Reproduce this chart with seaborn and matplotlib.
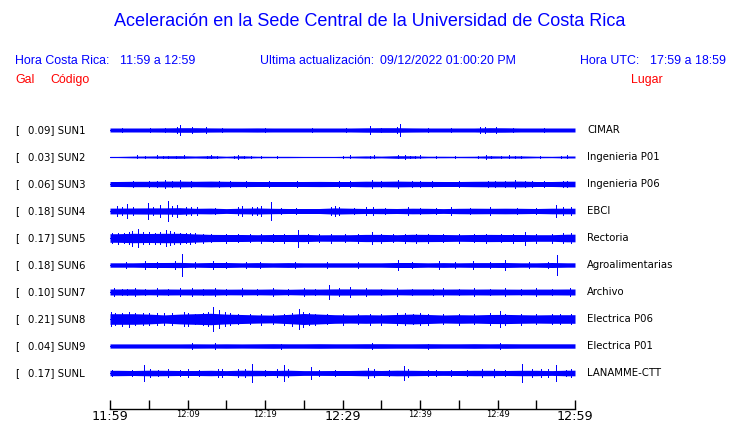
import numpy as np
import pandas as pd
import matplotlib
matplotlib.use("Agg")
import matplotlib.pyplot as plt
import seaborn as sns

# ---------------- data ----------------
codes = ["SUN1", "SUN2", "SUN3", "SUN4", "SUN5", "SUN6", "SUN7", "SUN8", "SUN9", "SUNL"]
peak_gal = ["0.09", "0.03", "0.06", "0.18", "0.17", "0.18", "0.10", "0.21", "0.04", "0.17"]
places = ["CIMAR", "Ingenieria P01", "Ingenieria P06", "EBCI", "Rectoria",
          "Agroalimentarias", "Archivo", "Electrica P06", "Electrica P01", "LANAMME-CTT"]

# time axis (minutes after 11:59)
block_centers = [1, 3, 5, 7, 9, 11, 13, 15, 17, 19, 21, 23, 25, 27, 29,
                 31, 33, 35, 37, 39, 41, 43, 45, 47, 49, 51, 53, 55, 57, 59]
tick_minutes = [0, 5, 10, 15, 20, 25, 30, 35, 40, 45, 50, 55, 60]
tick_labels = ["11:59", "", "12:09", "", "12:19", "", "12:29", "", "12:39", "", "12:49", "", "12:59"]
big_ticks = ["11:59", "12:29", "12:59"]

# half-amplitude of each trace per 2-minute block (pixel units of the plot)
env_sun1 = [2.0, 2.0, 2.0, 2.1, 2.3, 2.3, 2.1, 2.0, 2.0, 2.1, 2.0, 2.0, 2.0, 2.0, 2.0,
            2.0, 2.2, 2.3, 2.3, 2.1, 2.0, 2.0, 2.0, 2.0, 2.3, 2.2, 2.0, 2.0, 2.0, 2.0]
env_sun2 = [0.6, 0.9, 1.0, 1.2, 1.3, 1.0, 1.3, 0.8, 1.2, 0.8, 0.7, 0.7, 0.6, 0.6, 0.6,
            0.8, 1.1, 0.9, 1.3, 1.2, 0.8, 0.8, 0.7, 0.8, 1.2, 1.0, 1.1, 0.8, 0.7, 1.0]
env_sun3 = [2.5, 2.7, 2.7, 2.9, 2.9, 2.7, 2.9, 2.7, 2.6, 2.5, 2.5, 2.5, 2.5, 2.6, 2.5,
            2.5, 2.8, 2.7, 2.9, 2.7, 2.6, 2.5, 2.5, 2.7, 2.8, 2.8, 2.9, 2.5, 2.5, 2.8]
env_sun4 = [2.9, 3.0, 3.1, 3.1, 3.3, 2.7, 2.9, 2.4, 2.8, 3.0, 2.7, 2.5, 2.5, 2.5, 3.1,
            2.8, 2.5, 2.7, 2.5, 2.8, 2.7, 2.4, 2.7, 2.8, 2.7, 2.8, 2.7, 2.5, 2.8, 2.8]
env_sun5 = [4.3, 4.7, 4.5, 4.7, 4.7, 4.1, 3.6, 3.5, 3.5, 3.3, 3.5, 3.5, 3.6, 3.2, 3.3,
            3.3, 3.6, 3.6, 3.3, 3.7, 3.6, 3.5, 3.3, 3.5, 3.6, 3.5, 3.5, 3.3, 3.3, 3.8]
env_sun6 = [2.2, 2.2, 2.5, 2.5, 2.6, 2.2, 2.5, 2.5, 2.2, 2.4, 2.2, 2.4, 2.2, 2.2, 2.2,
            2.2, 2.2, 2.2, 2.5, 2.5, 2.2, 2.4, 2.2, 2.4, 2.4, 2.5, 2.2, 2.2, 2.5, 2.2]
env_sun7 = [3.0, 3.1, 2.8, 3.0, 2.9, 3.0, 3.1, 2.8, 2.9, 2.8, 3.0, 2.7, 3.0, 2.9, 3.1,
            3.1, 3.0, 3.0, 2.8, 3.0, 3.0, 2.9, 3.0, 2.9, 3.0, 2.9, 2.8, 2.9, 2.9, 3.0]
env_sun8 = [5.3, 5.3, 4.9, 4.1, 4.9, 5.3, 5.7, 4.9, 4.5, 4.1, 3.9, 4.6, 5.5, 4.9, 4.3,
            4.1, 4.3, 4.1, 4.5, 4.9, 4.5, 4.0, 4.3, 4.1, 4.5, 4.6, 4.3, 4.1, 4.3, 4.3]
env_sun9 = [2.1, 2.1, 2.1, 2.1, 2.1, 2.2, 2.1, 2.2, 2.1, 2.2, 2.3, 2.2, 2.2, 2.3, 2.2,
            2.2, 2.3, 2.3, 2.2, 2.2, 2.3, 2.2, 2.2, 2.3, 2.2, 2.3, 2.2, 2.2, 2.2, 2.2]
env_sunl = [2.7, 2.5, 2.8, 2.7, 2.5, 2.5, 2.7, 2.4, 2.8, 2.7, 2.5, 2.8, 2.4, 2.4, 2.5,
            2.5, 2.8, 2.5, 2.8, 2.7, 2.5, 2.4, 2.5, 2.7, 2.7, 2.5, 2.7, 2.7, 2.4, 2.8]

# isolated peaks: minute and half-amplitude (pixel units)
spk_t_sun1 = [1.5, 5.2, 7.1, 8.6, 9.0, 10.6, 12.4, 14.5, 20.0, 26.0, 30.5, 33.5, 35.0,
              37.0, 37.4, 41.0, 44.0, 47.8, 48.4, 49.8, 52.0, 56.0]
spk_a_sun1 = [2.2, 2.4, 2.4, 2.9, 4.9, 2.9, 3.4, 2.2, 2.2, 2.2, 2.4, 3.9, 2.4,
              3.4, 5.9, 2.2, 2.2, 3.4, 2.9, 2.6, 2.2, 2.2]
spk_t_sun2 = [3.5, 4.5, 6.0, 6.8, 7.5, 8.5, 9.5, 12.5, 13.0, 13.8, 16.0, 16.5, 17.3, 18.2,
              19.5, 21.5, 30.0, 31.0, 33.5, 34.0, 37.2, 38.0, 38.7, 39.4, 40.0, 42.0,
              44.5, 47.5, 48.5, 49.2, 50.5, 51.5, 52.2, 53.0, 55.5, 58.2, 59.0]
spk_a_sun2 = [1.5, 1.3, 1.5, 1.3, 1.4, 1.3, 1.5, 1.3, 1.5, 1.3, 1.4, 1.6, 1.3, 1.2,
              1.2, 1.2, 1.2, 1.5, 1.3, 1.5, 1.5, 1.6, 1.4, 1.3, 1.5, 1.2,
              1.2, 1.2, 1.6, 1.4, 1.3, 1.5, 1.3, 1.2, 1.2, 1.2, 1.5]
spk_t_sun3 = [3.0, 5.0, 6.0, 7.1, 8.0, 9.0, 10.5, 14.0, 15.5, 17.5, 20.5, 24.1, 29.5, 31.0,
              33.8, 35.0, 37.2, 39.0, 40.0, 41.5, 45.0, 48.8, 49.7, 51.0, 52.3, 53.5,
              54.5, 56.0, 58.5, 59.0]
spk_a_sun3 = [3.2, 3.2, 3.2, 3.9, 3.4, 3.6, 3.2, 3.4, 3.2, 3.4, 3.0, 3.4, 3.0, 3.0,
              3.6, 3.4, 3.9, 3.2, 3.4, 3.0, 3.0, 3.4, 3.4, 3.2, 3.9, 3.4,
              3.2, 3.0, 3.4, 3.4]
spk_t_sun4 = [0.9, 1.5, 2.15, 3.0, 4.9, 5.5, 6.4, 7.5, 8.0, 8.6, 9.8, 10.5, 11.2, 13.5,
              16.5, 17.0, 18.3, 19.0, 19.5, 20.8, 22.0, 24.0, 28.5, 29.0, 29.6, 31.5,
              33.0, 33.9, 35.5, 38.5, 40.0, 42.0, 44.0, 46.5, 49.0, 52.5, 55.0, 57.6,
              58.5, 59.5]
spk_a_sun4 = [4.9, 3.9, 7.4, 4.4, 8.4, 4.4, 6.4, 10.4, 4.9, 5.9, 4.4, 3.9, 3.9, 3.4,
              3.9, 4.9, 4.4, 3.9, 5.4, 8.9, 3.4, 3.4, 4.4, 4.9, 3.9, 3.4,
              3.9, 3.9, 3.4, 3.9, 3.4, 3.4, 3.9, 3.4, 3.9, 3.4, 3.4, 5.9,
              3.9, 3.9]
spk_t_sun5 = [0.3, 1.0, 1.8, 2.4, 2.9, 3.6, 4.3, 5.0, 5.8, 6.5, 7.2, 7.7, 8.3, 9.0, 9.8,
              10.3, 11.0, 12.0, 13.0, 15.0, 16.5, 18.0, 19.5, 21.0, 22.5, 24.3, 25.5,
              27.0, 28.5, 30.3, 32.0, 33.8, 35.0, 36.5, 38.0, 39.5, 41.0, 43.0, 45.0,
              47.0, 48.5, 50.5, 52.0, 53.6, 55.0, 57.0, 58.5, 59.5]
spk_a_sun5 = [5.0, 5.5, 5.0, 6.0, 7.5, 9.0, 6.0, 6.0, 5.5, 6.0, 8.0, 7.0, 6.0, 5.5, 5.0,
              5.5, 5.0, 4.5, 4.2, 4.5, 4.2, 4.2, 4.5, 4.2, 4.5, 8.5, 4.5,
              4.2, 4.5, 4.2, 4.5, 6.0, 4.5, 4.2, 4.5, 4.5, 4.5, 4.2, 4.5,
              4.2, 4.5, 4.2, 4.5, 6.5, 4.5, 4.5, 5.0, 5.0]
spk_t_sun6 = [2.0, 4.5, 6.0, 8.4, 9.3, 11.0, 13.3, 15.0, 17.5, 19.4, 23.9, 28.0, 32.0,
              37.2, 39.0, 42.5, 44.5, 46.8, 49.0, 51.0, 54.0, 56.5, 57.7]
spk_a_sun6 = [2.8, 3.8, 3.1, 3.8, 10.8, 3.1, 4.3, 3.3, 2.8, 3.3, 3.3, 2.8, 2.8,
              5.3, 3.3, 4.3, 3.1, 3.8, 3.1, 4.8, 2.8, 3.3, 9.8]
spk_t_sun7 = [0.5, 1.5, 2.2, 3.2, 4.5, 6.0, 7.5, 9.0, 10.6, 12.0, 13.5, 15.0, 17.0, 19.0,
              21.0, 23.0, 25.0, 26.5, 28.3, 29.5, 31.0, 33.0, 35.0, 37.0, 39.0, 41.7,
              43.0, 45.0, 47.0, 49.0, 51.0, 53.0, 55.0, 57.0, 59.3]
spk_a_sun7 = [3.6, 3.4, 3.4, 3.6, 3.4, 3.6, 3.4, 3.6, 3.9, 3.4, 3.6, 3.4, 3.6, 3.4,
              3.6, 3.4, 3.6, 3.4, 6.7, 3.9, 4.9, 3.6, 3.4, 3.6, 3.4, 3.4,
              3.6, 3.4, 3.6, 3.4, 3.6, 3.4, 3.6, 3.4, 3.8]
spk_t_sun8 = [0.1, 0.7, 1.5, 2.5, 3.2, 4.2, 5.0, 6.0, 7.0, 8.0, 9.5, 10.1, 11.0, 12.0,
              12.7, 13.3, 14.1, 14.8, 15.5, 16.5, 18.0, 19.5, 21.0, 22.5, 23.5, 24.4,
              24.9, 25.7, 26.5, 28.0, 30.0, 32.0, 33.5, 35.0, 37.0, 38.0, 39.1, 40.0,
              41.0, 43.0, 45.0, 47.0, 49.0, 50.3, 51.0, 53.0, 55.0, 57.0, 58.0, 59.5]
spk_a_sun8 = [7.0, 6.0, 6.5, 7.5, 6.0, 6.0, 5.8, 6.0, 5.8, 6.0, 6.7, 6.5, 5.2, 6.0,
              7.0, 12.3, 9.0, 7.0, 6.0, 5.2, 5.2, 5.5, 5.2, 5.5, 6.5, 10.3,
              7.5, 6.0, 5.5, 5.2, 5.5, 5.2, 5.5, 5.5, 6.0, 6.0, 5.2, 6.0,
              5.5, 5.2, 5.5, 5.2, 6.0, 7.8, 5.5, 5.5, 5.2, 5.0, 5.2, 5.2]
spk_t_sun9 = [10.6, 13.6, 22.0, 33.8, 41.0, 50.3]
spk_a_sun9 = [2.8, 2.8, 2.5, 2.6, 2.5, 2.8]
spk_t_sunl = [0.2, 2.8, 4.4, 5.2, 6.2, 7.5, 9.0, 10.0, 11.5, 13.9, 14.5, 16.5, 17.4, 18.3,
              20.0, 21.5, 22.4, 23.0, 25.9, 27.0, 29.0, 33.3, 34.0, 36.0, 37.9, 38.5,
              41.0, 42.0, 44.0, 46.0, 48.0, 49.5, 51.0, 53.1, 54.5, 55.6, 56.5, 57.6,
              58.9, 59.5]
spk_a_sunl = [2.7, 3.4, 7.7, 3.6, 3.4, 3.6, 3.4, 3.6, 3.4, 4.2, 3.6, 3.6, 3.9, 8.7,
              3.4, 3.6, 7.7, 3.9, 5.9, 3.4, 3.4, 5.4, 3.9, 3.4, 6.7, 3.9,
              3.4, 3.4, 3.4, 3.4, 3.6, 3.6, 3.4, 9.1, 3.6, 3.9, 3.9, 8.2,
              3.4, 3.9]

envelopes = [env_sun1, env_sun2, env_sun3, env_sun4, env_sun5,
             env_sun6, env_sun7, env_sun8, env_sun9, env_sunl]
spike_times = [spk_t_sun1, spk_t_sun2, spk_t_sun3, spk_t_sun4, spk_t_sun5,
               spk_t_sun6, spk_t_sun7, spk_t_sun8, spk_t_sun9, spk_t_sunl]
spike_amps = [spk_a_sun1, spk_a_sun2, spk_a_sun3, spk_a_sun4, spk_a_sun5,
              spk_a_sun6, spk_a_sun7, spk_a_sun8, spk_a_sun9, spk_a_sunl]

# ---------------- figure ----------------
sns.set_theme(style="white")
plt.rcParams["font.family"] = ["DejaVu Sans"]

W, H = 740, 423
fig = plt.figure(figsize=(W / 100, H / 100), dpi=100)
fig.patch.set_facecolor("white")

def fx(x):
    return x / W

def fy(y):
    return 1 - y / H

BLUE = "#0000ff"
RED = "#ff0000"

ax_left, ax_right, ax_top, ax_bottom = 110, 575, 115, 409
ax = fig.add_axes([fx(ax_left), fy(ax_bottom), (ax_right - ax_left) / W, (ax_bottom - ax_top) / H])
ax.set_facecolor("white")

row0, row_gap = 130, 27
for i, code in enumerate(codes):
    c = row0 + row_gap * i
    env = envelopes[i]
    t = [0] + block_centers + [60]
    e = [env[0]] + env + [env[-1]]
    df = pd.DataFrame({"t": t,
                       "mid": [c] * len(t),
                       "lo": [c - v for v in e],
                       "hi": [c + v for v in e]})
    ax.fill_between(df["t"], df["lo"], df["hi"], color=BLUE, lw=0, antialiased=False)
    sns.lineplot(data=df, x="t", y="mid", ax=ax, color=BLUE, lw=0.7, antialiased=False)
    ax.vlines(spike_times[i], [c - a for a in spike_amps[i]], [c + a for a in spike_amps[i]],
              color=BLUE, lw=0.7, antialiased=False)

    # labels
    fig.text(fx(15), fy(c), "[", fontsize=7.3, color="black", va="center", ha="left")
    fig.text(fx(28), fy(c), f"{peak_gal[i]}] {code}", fontsize=7.3, color="black",
             va="center", ha="left")
    fig.text(fx(587), fy(c), places[i], fontsize=7.3, color="black", va="center", ha="left")

ax.set_xlim(0, 60)
ax.set_ylim(ax_bottom, ax_top)
ax.set_xlabel("")
ax.set_ylabel("")
ax.set_yticks([])
for s in ["top", "left", "right"]:
    ax.spines[s].set_visible(False)
ax.spines["bottom"].set_color("black")
ax.spines["bottom"].set_linewidth(1.0)
ax.set_xticks(tick_minutes)
ax.set_xticklabels(tick_labels)
ax.tick_params(axis="x", direction="in", length=6.5, width=1.0, color="black", pad=0.6,
               bottom=True)
for lab in ax.get_xticklabels():
    lab.set_color("black")
    lab.set_fontsize(9.2 if lab.get_text() in big_ticks else 6.0)

# ---------------- header texts ----------------
fig.text(0.5, fy(22), "Aceleración en la Sede Central de la Universidad de Costa Rica",
         fontsize=12.95, color=BLUE, ha="center", va="center", family="Liberation Sans")
hdr = dict(fontsize=8.9, color=BLUE, va="center", ha="left", family="Liberation Sans")
fig.text(fx(15), fy(61), "Hora Costa Rica:", **hdr)
fig.text(fx(120), fy(61), "11:59 a 12:59", **hdr)
fig.text(fx(260), fy(61), "Ultima actualización:", **hdr)
fig.text(fx(380), fy(61), "09/12/2022 01:00:20 PM", **hdr)
fig.text(fx(580), fy(61), "Hora UTC:", **hdr)
fig.text(fx(650), fy(61), "17:59 a 18:59", **hdr)
red = dict(fontsize=8.9, color=RED, va="center", ha="left", family="Liberation Sans")
fig.text(fx(15), fy(80), "Gal", **red)
fig.text(fx(50), fy(80), "Código", **red)
fig.text(fx(631), fy(80), "Lugar", **red)

fig.savefig("out.png", dpi=100, facecolor="white")
